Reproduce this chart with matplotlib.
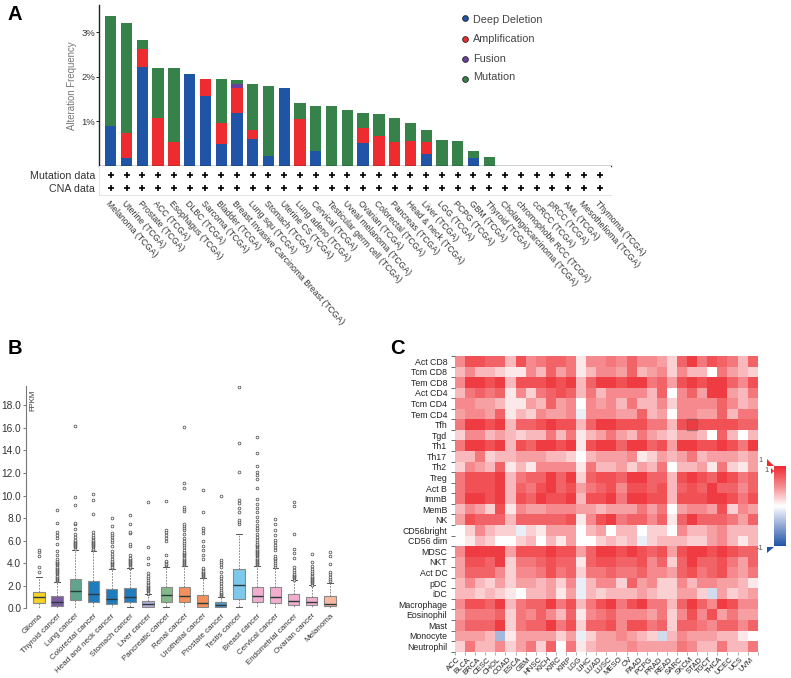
import numpy as np
import matplotlib
matplotlib.use("Agg")
import matplotlib.pyplot as plt
from matplotlib.colors import LinearSegmentedColormap, Normalize
from matplotlib.patches import Polygon, Rectangle
from matplotlib.transforms import ScaledTranslation

plt.rcParams["font.family"] = ["Liberation Sans", "DejaVu Sans"]

W, H = 791, 678
TXT = "#333333"

# ---- panel A data
cancers = ["Melanoma", "Uterine", "Prostate", "ACC", "Esophagus", "DLBC", "Sarcoma", "Bladder",
           "Breast Invasive Carcinoma Breast", "Lung squ", "Stomach", "Uterine CS", "Lung adeno",
           "Cervical", "Testicular germ cell", "Uveal melanoma", "Ovarian", "Colorectal", "Pancreas",
           "Head & neck", "Liver", "LGG", "PCPG", "GBM", "Thyroid", "Cholangiocarcinoma",
           "chromophobe RCC", "ccRCC", "pRCC", "AML", "Mesothelioma", "Thymoma"]
deep_del = [0.89, 0.18, 2.21, 0, 0, 2.07, 1.56, 0.48, 1.18, 0.60, 0.21, 1.74, 0, 0.32, 0, 0, 0.50, 0, 0, 0,
            0.26, 0, 0, 0.16, 0, 0, 0, 0, 0, 0, 0, 0]
amplif = [0, 0.56, 0.41, 1.08, 0.53, 0, 0.39, 0.47, 0.56, 0.21, 0, 0, 1.04, 0, 0, 0, 0.34, 0.67, 0.53, 0.56,
          0.27, 0, 0, 0, 0, 0, 0, 0, 0, 0, 0, 0]
fusion = [0, 0, 0, 0, 0, 0, 0, 0, 0.10, 0, 0, 0, 0, 0, 0, 0, 0, 0, 0, 0,
          0, 0, 0, 0, 0, 0, 0, 0, 0, 0, 0, 0]
mutation = [2.48, 2.46, 0.21, 1.11, 1.66, 0, 0, 0.99, 0.08, 1.02, 1.59, 0, 0.36, 1.02, 1.33, 1.24, 0.35, 0.50,
            0.55, 0.39, 0.27, 0.57, 0.55, 0.16, 0.19, 0, 0, 0, 0, 0, 0, 0]
legend_names = ["Deep Deletion", "Amplification", "Fusion", "Mutation"]

# ---- panel B data
box_names = ["Glioma", "Thyroid cancer", "Lung cancer", "Colorectal cancer", "Head and neck cancer",
             "Stomach cancer", "Liver cancer", "Pancreatic cancer", "Renal cancer", "Urothelial cancer",
             "Prostate cancer", "Testis cancer", "Breast cancer", "Cervical cancer", "Endometrial cancer",
             "Ovarian cancer", "Melanoma"]
box_q1 = [0.44, 0.20, 0.72, 0.57, 0.42, 0.52, 0.15, 0.60, 0.55, 0.15, 0.12, 0.85, 0.55, 0.45, 0.30, 0.27, 0.24]
box_med = [1.00, 0.55, 1.50, 1.25, 0.82, 1.00, 0.35, 1.15, 1.05, 0.45, 0.25, 2.05, 1.05, 0.97, 0.62, 0.53, 0.41]
box_q3 = [1.42, 1.08, 2.60, 2.42, 1.72, 1.78, 0.62, 1.88, 1.92, 1.20, 0.55, 3.45, 1.85, 1.85, 1.25, 1.03, 1.10]
box_lo = [0.05, 0.03, 0.05, 0.05, 0.03, 0.10, 0.02, 0.08, 0.05, 0.02, 0.03, 0.08, 0.05, 0.05, 0.03, 0.02, 0.03]
box_hi = [2.80, 2.30, 5.20, 5.10, 3.50, 3.55, 1.25, 3.70, 3.75, 2.70, 1.00, 6.60, 3.75, 3.60, 2.50, 2.05, 2.20]
box_fliers = [
    [3.2, 3.7, 4.6, 4.95, 5.15],
    [2.4, 2.5, 2.6, 2.7, 2.8, 2.9, 3.0, 3.1, 3.2, 3.3, 3.4, 3.5, 3.6, 3.7, 3.8, 3.9, 4.0, 4.1, 4.2, 4.4, 4.7, 5.1, 5.7, 6.2, 6.5, 6.8, 7.6, 8.7],
    [5.3, 5.4, 5.5, 5.6, 5.7, 5.8, 5.9, 6.0, 6.1, 6.3, 6.6, 7.0, 7.5, 7.6, 9.2, 9.9, 16.2],
    [5.2, 5.3, 5.4, 5.5, 5.6, 5.7, 5.8, 5.9, 6.0, 6.1, 6.2, 6.3, 6.5, 6.8, 8.4, 9.6, 10.1],
    [3.6, 3.7, 3.8, 3.9, 4.0, 4.1, 4.2, 4.4, 4.6, 4.8, 5.1, 5.5, 5.9, 6.1, 6.3, 6.5, 6.7, 7.3, 8.0],
    [3.6, 3.7, 3.8, 3.9, 4.0, 4.1, 4.2, 4.3, 4.4, 4.5, 4.7, 5.5, 5.7, 6.7, 6.8, 7.5, 8.3],
    [1.3, 1.4, 1.5, 1.6, 1.7, 1.8, 1.9, 2.0, 2.1, 2.2, 2.3, 2.5, 2.7, 2.9, 3.1, 3.9, 4.5, 5.4, 9.4],
    [3.8, 3.95, 4.1, 4.2, 4.7, 6.0, 6.2, 6.5, 6.8, 6.9, 9.55],
    [3.8, 3.9, 4.0, 4.1, 4.2, 4.3, 4.4, 4.5, 4.6, 4.7, 4.8, 4.9, 5.0, 5.2, 5.4, 5.6, 5.8, 6.0, 6.2, 6.6, 6.9, 7.1, 7.3, 7.5, 8.6, 8.8, 9.0, 10.7, 11.1, 16.1],
    [2.75, 2.85, 2.95, 3.05, 3.15, 3.25, 3.35, 3.45, 3.6, 4.4, 4.7, 5.2, 5.55, 6.0, 6.7, 6.9, 7.1, 8.5, 10.45],
    [1.05, 1.15, 1.25, 1.35, 1.45, 1.6, 1.8, 2.0, 2.2, 2.4, 2.7, 2.9, 3.2, 3.7, 3.9, 4.1, 4.3, 10.0],
    [7.5, 7.65, 7.8, 8.55, 8.85, 9.3, 9.6, 12.1, 14.7, 19.6],
    [3.8, 3.9, 4.0, 4.1, 4.2, 4.3, 4.4, 4.5, 4.6, 4.7, 4.8, 4.9, 5.0, 5.1, 5.2, 5.3, 5.4, 5.5, 5.6, 5.7, 5.9, 6.1, 6.3, 6.6, 6.9, 7.1, 7.4,
     7.7, 8.1, 8.5, 8.85, 9.25, 9.65, 10.65, 11.5, 11.8, 12.1, 12.6, 13.75, 15.2],
    [3.7, 3.85, 4.0, 4.2, 4.35, 4.5, 4.6, 5.15, 5.4, 5.6, 5.9, 6.1, 6.5, 6.95, 7.5, 7.9],
    [2.55, 2.65, 2.75, 2.85, 2.95, 3.05, 3.2, 3.4, 3.7, 4.5, 4.9, 5.25, 6.55, 9.05, 9.45],
    [2.1, 2.2, 2.3, 2.4, 2.5, 2.6, 2.7, 2.8, 2.9, 3.0, 3.1, 3.3, 3.5, 3.75, 4.1, 4.8],
    [2.4, 2.6, 2.8, 3.0, 3.2, 3.9, 4.6, 5.0],
]
box_colors = ["#F5D327", "#7B5EA0", "#5FA58E", "#1F7DBF", "#1F7DBF", "#1F7DBF", "#B6AEDA", "#85B98A", "#F4905A",
              "#F4905A", "#4B93C8", "#7EC8EC", "#F3AECF", "#F3AECF", "#F3AECF", "#F3AECF", "#FBB9A1"]

# ---- panel C data (correlation in tenths)
cell_rows = ["Act CD8", "Tcm CD8", "Tem CD8", "Act CD4", "Tcm CD4", "Tem CD4", "Tfh", "Tgd", "Th1", "Th17", "Th2",
             "Treg", "Act B", "ImmB", "MemB", "NK", "CD56bright", "CD56 dim", "MDSC", "NKT", "Act DC", "pDC", "iDC",
             "Macrophage", "Eosinophil", "Mast", "Monocyte", "Neutrophil"]
tcga_cols = ["ACC", "BLCA", "BRCA", "CESC", "CHOL", "COAD", "ESCA", "GBM", "HNSC", "KICH", "KIRC", "KIRP", "LGG",
             "LIHC", "LUAD", "LUSC", "MESO", "OV", "PAAD", "PCPG", "PRAD", "READ", "SARC", "SKCM", "STAD", "TGCT",
             "THCA", "UCEC", "UCS", "UVM"]
corr = np.array([
    [5, 8, 8, 7, 7, 3, 8, 5, 6, 7, 7, 6, 1, 5, 5, 6, 5, 7, 5, 5, 4, 2, 7, 9, 6, 8, 7, 6, 3, 7],
    [3, 5, 3, 3, 2, 1, 1, 5, 3, 7, 4, 6, 1, 3, 5, 5, 4, 7, 3, 4, 5, 2, 5, 3, 3, 0, 6, 4, 3, 2],
    [5, 9, 9, 8, 9, 3, 8, 8, 8, 9, 8, 9, 3, 7, 9, 9, 8, 9, 9, 6, 7, 4, 8, 9, 8, 9, 9, 7, 5, 8],
    [3, 6, 7, 6, 7, 1, 5, 2, 6, 7, 8, 7, 3, 6, 3, 5, 5, 5, 5, 3, 7, 0, 5, 7, 4, 9, 9, 4, 3, 6],
    [5, 5, 4, 4, 3, 1, 1, 4, 3, 7, 4, 5, 0, 5, 4, 5, 3, 6, 3, 3, 5, 2, 5, 5, 5, 5, 7, 5, 3, 4],
    [4, 5, 5, 4, 7, 1, 3, 2, 5, 4, 4, 5, -1, 5, 5, 5, 4, 4, 7, 3, 4, 0, 5, 5, 4, 4, 7, 3, 6, 6],
    [6, 9, 9, 8, 9, 3, 7, 7, 8, 9, 8, 8, 3, 7, 9, 9, 8, 8, 8, 6, 6, 3, 8, 9, 8, 8, 8, 8, 7, 7],
    [2, 5, 5, 3, 4, 3, 2, 3, 3, 6, 3, 6, 1, 3, 4, 6, 4, 3, 6, 4, 3, 2, 4, 4, 3, 0, 7, 3, 0, 3],
    [6, 9, 9, 8, 9, 3, 8, 7, 9, 9, 8, 9, 1, 8, 9, 9, 7, 9, 9, 7, 8, 4, 9, 9, 8, 8, 9, 8, 6, 9],
    [3, 3, 6, 2, 3, 3, 4, 4, 4, 3, 3, 2, 0, 3, 4, 4, 4, 5, 1, 2, 4, 3, 4, 6, 3, 4, 4, 4, 3, 4],
    [2, 5, 4, 3, 7, 1, 3, 1, 5, 5, 5, 5, 1, 6, 3, 3, 4, 2, 4, 3, 6, 0, 3, 3, 4, 1, 6, 2, 1, 4],
    [6, 8, 8, 8, 9, 3, 6, 7, 7, 9, 7, 9, 2, 7, 8, 8, 7, 9, 9, 7, 7, 3, 8, 9, 8, 7, 9, 8, 6, 7],
    [6, 8, 8, 8, 9, 3, 7, 6, 8, 9, 7, 8, 4, 6, 7, 8, 5, 8, 8, 7, 8, 3, 7, 8, 7, 9, 7, 7, 5, 7],
    [6, 9, 9, 8, 9, 3, 8, 7, 9, 8, 8, 9, 3, 8, 8, 9, 6, 9, 9, 8, 8, 3, 8, 8, 8, 9, 9, 8, 6, 8],
    [3, 5, 4, 2, 8, 1, 5, 4, 4, 5, 5, 5, 4, 4, 3, 4, 4, 4, 6, 4, 6, 0, 4, 5, 5, 4, 8, 2, 5, 4],
    [4, 8, 7, 7, 7, 3, 7, 7, 7, 7, 7, 8, 1, 5, 8, 9, 6, 7, 7, 5, 7, 1, 7, 9, 7, 7, 7, 6, 4, 7],
    [0, 2, 5, 3, 2, 2, -1, 2, 1, 4, 4, 4, 0, 3, 4, 0, 3, 3, 0, 2, 2, 0, 5, 3, 3, 4, 5, 3, 3, 3],
    [0, 1, 3, 2, 0, 0, 2, 3, 0, 3, 1, 4, 0, 0, 2, 3, 2, 3, -1, 2, 3, 3, 3, 2, 2, 4, 5, 3, 1, 3],
    [5, 9, 9, 9, 9, 4, 8, 8, 8, 9, 8, 8, 4, 7, 9, 9, 8, 9, 8, 7, 8, 4, 8, 9, 9, 8, 9, 8, 7, 7],
    [4, 8, 8, 7, 9, 2, 6, 6, 7, 8, 7, 7, 1, 7, 8, 8, 7, 7, 8, 5, 7, 2, 7, 9, 7, 7, 8, 6, 4, 7],
    [4, 7, 7, 7, 5, 2, 5, 5, 6, 8, 6, 7, 2, 6, 6, 7, 6, 6, 7, 5, 5, 4, 7, 8, 6, 7, 8, 5, 4, 6],
    [3, 5, 3, 2, 4, 2, 4, 4, 3, 4, 2, 5, -1, 3, 5, 5, 2, 7, 4, 5, 2, 2, 5, 3, 5, 5, 4, 4, 3, 1],
    [3, 3, 2, 3, 2, 1, 0, 3, 3, 4, 1, 4, -1, 3, 2, 3, 3, 3, 4, 3, 2, 2, 4, 4, 2, -2, 4, 2, 3, 4],
    [5, 8, 8, 7, 9, 3, 6, 7, 7, 9, 6, 8, 3, 6, 8, 9, 6, 8, 9, 6, 6, 3, 7, 9, 7, 5, 9, 8, 5, 5],
    [4, 6, 6, 6, 7, 2, 6, 5, 7, 5, 3, 7, 1, 5, 6, 7, 5, 5, 5, 4, 6, 2, 5, 8, 5, 8, 4, 6, 4, 4],
    [5, 7, 7, 7, 9, 2, 6, 7, 7, 9, 6, 8, 2, 7, 7, 8, 5, 8, 8, 6, 7, 2, 7, 7, 6, 5, 7, 7, 5, 7],
    [4, 4, 4, 3, -4, 1, 4, 4, 4, 4, 2, 4, -1, 2, 4, 4, 5, 4, 3, 2, -2, 3, 5, 4, 4, 4, 3, 3, 1, 0],
    [2, 6, 3, 3, 5, 2, 4, 6, 2, 7, 0, 6, 1, 3, 4, 4, 4, 5, 4, 4, 4, 4, 6, 5, 3, 3, 6, 3, 3, 6],
]) / 10.0


def add_axes_px(fig, left, top, right, bottom):
    return fig.add_axes([left / W, 1 - bottom / H, (right - left) / W, (bottom - top) / H])


fig = plt.figure(figsize=(W / 100, H / 100), dpi=100)

# ---- A: stacked bars
ax_a = add_axes_px(fig, 99.5, 5, 611, 165.5)
x_a = np.arange(len(cancers))
bottom = np.zeros(len(cancers))
for vals, col in zip([deep_del, amplif, fusion, mutation], ["#2054A6", "#EE2B2E", "#6B3FA0", "#37824A"]):
    ax_a.bar(x_a, vals, 0.72, bottom=bottom, color=col, edgecolor="none")
    bottom = bottom + np.array(vals)
ax_a.set_xlim(-0.716, 31.72)
ax_a.set_ylim(0, 3.615)
ax_a.set_xticks([])
ax_a.set_yticks([1, 2, 3])
ax_a.set_yticklabels(["1%", "2%", "3%"], fontsize=6.8, color=TXT)
ax_a.tick_params(axis="y", length=2, width=0.7, pad=1, color="#222222")
ax_a.set_ylabel("Alteration Frequency", fontsize=6.9, color="#777777", labelpad=3)
for s in ["top", "right"]:
    ax_a.spines[s].set_visible(False)
for s in ["left", "bottom"]:
    ax_a.spines[s].set_color("#222222")
    ax_a.spines[s].set_linewidth(1.0)

# profile strip with + marks and rotated names
ax_p = add_axes_px(fig, 99.5, 165.5, 611, 195)
ax_p.set_xlim(-0.716, 31.72)
ax_p.set_ylim(2, 0)
ax_p.scatter(x_a, np.full(len(x_a), 0.62), marker="+", s=15, linewidths=1.2, color="black")
ax_p.scatter(x_a, np.full(len(x_a), 1.5), marker="+", s=15, linewidths=1.2, color="black")
ax_p.set_yticks([0.62, 1.5])
ax_p.set_yticklabels(["Mutation data", "CNA data"], fontsize=7.7, color=TXT)
ax_p.tick_params(axis="y", length=0, pad=3)
ax_p.set_xticks(x_a)
ax_p.set_xticklabels([c + " (TCGA)" for c in cancers], rotation=-48, ha="left", va="top", rotation_mode="anchor",
                     fontsize=6.2, color=TXT)
ax_p.tick_params(axis="x", length=0, pad=3)
for s in ["top", "right"]:
    ax_p.spines[s].set_visible(False)
for s in ["left", "bottom"]:
    ax_p.spines[s].set_color("#E4E4E4")
    ax_p.spines[s].set_linewidth(0.7)

# ---- B: box plots
ax_b = add_axes_px(fig, 26, 386, 340, 608.3)
stats = []
for i, name in enumerate(box_names):
    stats.append({"label": name, "med": box_med[i], "q1": box_q1[i], "q3": box_q3[i],
                  "whislo": box_lo[i], "whishi": box_hi[i], "fliers": box_fliers[i]})
bp = ax_b.bxp(stats, positions=np.arange(len(stats)), widths=0.62, patch_artist=True,
              boxprops=dict(edgecolor="#8A8A8A", linewidth=0.8),
              medianprops=dict(color="#2A3A3A", linewidth=1.0),
              whiskerprops=dict(color="#777777", linewidth=0.6, linestyle=(0, (2, 1.5))),
              capprops=dict(color="#555555", linewidth=0.7),
              capwidths=0.32,
              flierprops=dict(marker="o", markersize=2, markerfacecolor="white", markeredgecolor="#444444",
                              markeredgewidth=0.5, linestyle="none"))
for patch, col in zip(bp["boxes"], box_colors):
    patch.set_facecolor(col)
ax_b.set_xlim(-0.71, 16.55)
ax_b.set_ylim(0, 19.71)
ax_b.set_yticks(np.arange(0, 19, 2))
ax_b.set_yticklabels(["%.1f" % v for v in np.arange(0, 19, 2)], fontsize=7.3, color=TXT)
ax_b.tick_params(axis="y", length=2.5, width=0.7, pad=1, color="#777777")
ax_b.set_xticks(np.arange(len(box_names)))
ax_b.set_xticklabels(box_names, rotation=45, ha="right", va="top", rotation_mode="anchor", fontsize=5.8, color=TXT)
ax_b.tick_params(axis="x", length=0, pad=3)
ax_b.text(0.012, 0.985, "FPKM", rotation=90, transform=ax_b.transAxes, va="top", ha="left", fontsize=5.5, color=TXT)
for s in ["top", "right", "bottom"]:
    ax_b.spines[s].set_visible(False)
ax_b.spines["left"].set_color("#777777")
ax_b.spines["left"].set_linewidth(0.8)

# ---- C: heat map
cmap = LinearSegmentedColormap.from_list("bwr2", ["#2054A6", "#8FA6D4", "#FFFFFF", "#F58A8E", "#EE2A30"])
norm = Normalize(-1, 1)
ax_c = add_axes_px(fig, 455, 356, 757.7, 651.7)
mesh = ax_c.pcolormesh(np.arange(len(tcga_cols) + 1), np.arange(len(cell_rows) + 1), corr, cmap=cmap, norm=norm)
ax_c.set_ylim(len(cell_rows), 0)
ax_c.set_yticks(np.arange(len(cell_rows) + 1))
ax_c.set_yticklabels([])
ax_c.set_yticks(np.arange(len(cell_rows)) + 0.5, minor=True)
ax_c.set_yticklabels(cell_rows, minor=True, fontsize=6.3, color="#222222")
ax_c.tick_params(axis="y", which="major", length=3, width=0.6, color="#555555")
ax_c.tick_params(axis="y", which="minor", length=0, pad=5.5)
ax_c.set_xticks(np.arange(len(tcga_cols) + 1))
ax_c.set_xticklabels([])
ax_c.set_xticks(np.arange(len(tcga_cols)) + 0.5, minor=True)
ax_c.set_xticklabels(tcga_cols, minor=True, rotation=45, ha="right", va="top", rotation_mode="anchor",
                     fontsize=5.6, color="#222222")
ax_c.tick_params(axis="x", which="major", length=2, width=0.5, color="#888888")
ax_c.tick_params(axis="x", which="minor", length=0, pad=3)
for lbl in ax_c.get_xticklabels(minor=True):
    lbl.set_transform(lbl.get_transform() + ScaledTranslation(-2 / 72, 0, fig.dpi_scale_trans))
for s in ax_c.spines.values():
    s.set_visible(False)
ax_c.add_patch(Rectangle((tcga_cols.index("SKCM"), cell_rows.index("Tfh")), 1, 1, fill=False, edgecolor="#8A5A5A",
                         linewidth=1.0, alpha=0.7))

cax = add_axes_px(fig, 774.3, 466, 786, 546)
cb = fig.colorbar(mesh, cax=cax)
cb.set_ticks([])
cb.outline.set_visible(False)

# ---- overlay in pixel coordinates: letters, legend, colour bar marks
ov = fig.add_axes([0, 0, 1, 1], facecolor="none")
ov.set_xlim(0, W)
ov.set_ylim(H, 0)
ov.axis("off")
for letter, xp, yp in [("A", 7.5, 15), ("B", 8, 348), ("C", 390, 349)]:
    ov.text(xp, yp, letter, fontsize=14.5, fontweight="bold", color="black", va="center", ha="left")
for name, col, yd, yt in zip(legend_names, ["#2054A6", "#EE2B2E", "#6B3FA0", "#37824A"],
                             [17.5, 39, 59, 79], [20, 39, 58.5, 77]):
    ov.scatter([465], [yd], s=17, color=col, edgecolor="#222222", linewidths=0.6)
    ov.text(473, yt, name, fontsize=7.8, color="#444444", va="center", ha="left")
ov.add_patch(Polygon([[767, 459], [774, 466], [767, 466]], closed=True, color="#EE2A30", lw=0))
ov.add_patch(Polygon([[771, 468], [774, 471], [771, 474]], closed=True, color="#EE2A30", lw=0))
ov.add_patch(Polygon([[767, 547], [774, 547], [767, 553]], closed=True, color="#2054A6", lw=0))
ov.text(761, 461, "1", fontsize=5.5, color="#555555", ha="center", va="center")
ov.text(767, 471, "1", fontsize=5.5, color="#555555", ha="center", va="center")
ov.text(760, 549, "-1", fontsize=5.5, color="#555555", ha="center", va="center")

fig.savefig("out.png", dpi=100)
